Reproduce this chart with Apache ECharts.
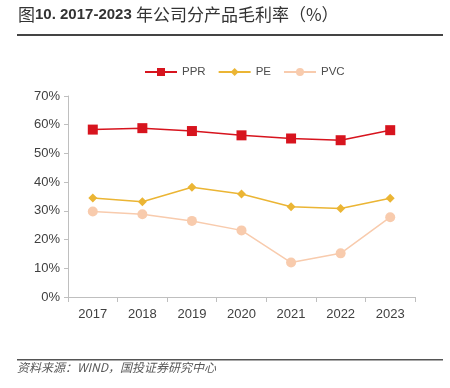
<!DOCTYPE html>
<html><head><meta charset="utf-8">
<script src="https://cdn.jsdelivr.net/npm/echarts@6/dist/echarts.min.js"></script>
<style>html,body{margin:0;padding:0;background:#fff}#c{width:450px;height:388px}</style>
</head><body><div id="c"></div>
<script>
const categories = ['2017','2018','2019','2020','2021','2022','2023'];
const ppr = [58.3, 58.8, 57.8, 56.3, 55.2, 54.6, 58.1];
const pe  = [34.5, 33.2, 38.2, 35.9, 31.4, 30.8, 34.4];
const pvc = [29.8, 28.8, 26.5, 23.2, 12.0, 15.2, 27.8];
const yTicks = [0, 10, 20, 30, 40, 50, 60, 70];

const chart = echarts.init(document.getElementById('c'), null, {renderer: 'canvas'});
const axisColor = '#bfbfbf';
const labelColor = '#404040';
chart.setOption({
  animation: false,
  textStyle: {fontFamily: 'Liberation Sans, Arial, sans-serif'},
  grid: {left: 68, right: 35, top: 96, bottom: 91, containLabel: false},
  graphic: [
    {type: 'text', left: 18, top: 6, style: {
      text: '{a|图}{b|10. 2017-2023 }{a|年公司分产品毛利率（%）}',
      rich: {
        a: {font: '17px "Noto Sans CJK SC", sans-serif', fill: '#333'},
        b: {font: 'bold 15px "Liberation Sans", Arial, sans-serif', fill: '#333'}
      }}},
    {type: 'rect', shape: {x: 17, y: 34, width: 426, height: 2}, style: {fill: '#444'}},
    {type: 'rect', shape: {x: 17, y: 359, width: 426, height: 1.5}, style: {fill: '#555'}},
    {type: 'text', left: 17, top: 361, style: {text: '资料来源：WIND，国投证券研究中心', font: 'italic 12px "Noto Sans CJK SC", sans-serif', fill: '#595959'}}
  ],
  legend: {
    top: 61, left: 139,
    itemWidth: 32, itemHeight: 10, itemGap: 12,
    textStyle: {color: '#4d4d4d', fontSize: 11.5, fontFamily: '"Liberation Sans", Arial, sans-serif'},
    data: ['PPR', 'PE', 'PVC']
  },
  xAxis: {
    type: 'category', data: categories,
    axisLine: {lineStyle: {color: axisColor}},
    axisTick: {show: true, alignWithLabel: false, lineStyle: {color: axisColor}, length: 5},
    axisLabel: {color: labelColor, fontSize: 13, margin: 11}
  },
  yAxis: {
    type: 'value', min: 0, max: 70, interval: 10,
    axisLine: {show: true, lineStyle: {color: axisColor}},
    axisTick: {show: true, lineStyle: {color: axisColor}, length: 4},
    splitLine: {show: false},
    axisLabel: {color: labelColor, fontSize: 13, margin: 8,
      formatter: v => yTicks.includes(v) ? v + '%' : ''}
  },
  series: [
    {name: 'PPR', type: 'line', data: ppr, symbol: 'rect', symbolSize: 10,
     lineStyle: {color: '#d7141e', width: 1.5}, itemStyle: {color: '#d7141e'}},
    {name: 'PE', type: 'line', data: pe, symbol: 'diamond', symbolSize: 9,
     lineStyle: {color: '#ebb534', width: 1.5}, itemStyle: {color: '#ebb534'}},
    {name: 'PVC', type: 'line', data: pvc, symbol: 'circle', symbolSize: 10,
     lineStyle: {color: '#f8cbad', width: 1.5}, itemStyle: {color: '#f8cbad'}}
  ]
});
</script></body></html>
